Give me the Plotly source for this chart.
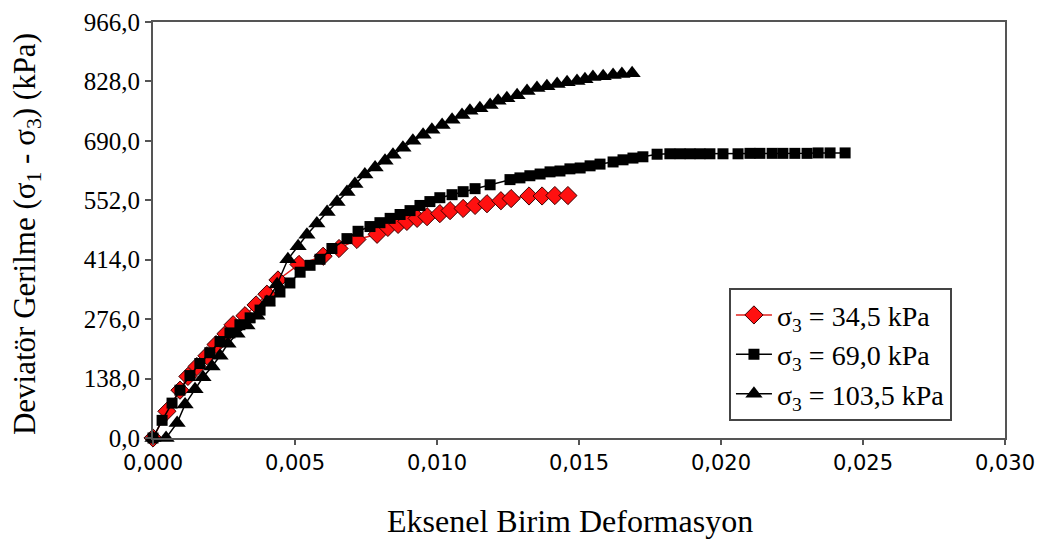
import plotly.graph_objects as go

# Series 1: sigma3 = 34.5 kPa (red diamonds)
x1 = [0.0, 0.00049, 0.00095, 0.00123, 0.00155, 0.0019, 0.00222, 0.00257, 0.00282, 0.00324,
      0.00363, 0.00401, 0.0044, 0.00514, 0.00599, 0.00655, 0.00718, 0.00789, 0.00827, 0.00863,
      0.00894, 0.0093, 0.00965, 0.0101, 0.01046, 0.01092, 0.01134, 0.01176, 0.01225, 0.01261,
      0.01324, 0.0137, 0.01415, 0.01461]
y1 = [0, 62, 111, 143, 166, 191, 217, 242, 263, 284,
      309, 334, 367, 403, 422, 440, 461, 473, 489, 496,
      503, 510, 514, 521, 528, 533, 540, 544, 551, 556,
      562, 562, 563, 563]

# Series 2: sigma3 = 69.0 kPa (black squares)
x2 = [0.0, 0.00032, 0.00067, 0.00095, 0.0013, 0.00165, 0.002, 0.00236, 0.00271, 0.00306,
      0.00342, 0.00377, 0.00412, 0.00447, 0.00482, 0.00518, 0.00553, 0.00588, 0.0063, 0.00683,
      0.00722, 0.00764, 0.00799, 0.00835, 0.0087, 0.00905, 0.0094, 0.00975, 0.0101, 0.01053,
      0.01092, 0.01134, 0.01187, 0.01257, 0.01292, 0.01327, 0.01363, 0.01398, 0.01433, 0.01468,
      0.01504, 0.01539, 0.01574, 0.0162, 0.01655, 0.0169, 0.01725, 0.01775, 0.0182, 0.01856,
      0.01891, 0.01926, 0.01961, 0.02007, 0.0206, 0.02102, 0.02137, 0.0218, 0.02218, 0.0226,
      0.02303, 0.02342, 0.02384, 0.02437]
y2 = [0, 41, 81, 111, 145, 173, 198, 224, 244, 263,
      279, 297, 318, 339, 360, 385, 401, 415, 440, 463,
      480, 491, 500, 510, 519, 528, 540, 549, 558, 565,
      572, 579, 588, 600, 604, 609, 613, 618, 620, 625,
      627, 632, 636, 641, 646, 650, 653, 659, 660, 660,
      660, 660, 660, 660, 660, 661, 661, 661, 661, 661,
      661, 662, 662, 662]

# Series 3: sigma3 = 103.5 kPa (black triangles)
x3 = [0.0, 0.00046, 0.00085, 0.00113, 0.00148, 0.00176, 0.00208, 0.00236, 0.00264, 0.00296,
      0.00331, 0.00366, 0.00401, 0.00437, 0.00475, 0.00511, 0.00542, 0.00577, 0.00613, 0.00648,
      0.00683, 0.00711, 0.00746, 0.00782, 0.00817, 0.00845, 0.0088, 0.00915, 0.00951, 0.00982,
      0.01018, 0.01053, 0.01088, 0.01116, 0.01151, 0.01187, 0.01215, 0.01246, 0.01282, 0.01317,
      0.01352, 0.01387, 0.01423, 0.01458, 0.01493, 0.01521, 0.01549, 0.01585, 0.0162, 0.01651,
      0.01687]
y3 = [0, 0, 35, 78, 113, 141, 166, 191, 219, 242,
      261, 284, 316, 357, 415, 445, 472, 498, 525, 548,
      571, 590, 612, 628, 644, 658, 674, 690, 704, 716,
      727, 739, 750, 760, 766, 773, 783, 789, 796, 806,
      813, 817, 822, 826, 829, 833, 838, 840, 843, 845,
      847]

series_names = ["σ<sub>3</sub> = 34,5 kPa", "σ<sub>3</sub> = 69,0 kPa", "σ<sub>3</sub> = 103,5 kPa"]

x_tickvals = [0.0, 0.005, 0.010, 0.015, 0.020, 0.025, 0.030]
x_ticktext = ["0,000", "0,005", "0,010", "0,015", "0,020", "0,025", "0,030"]
y_tickvals = [0, 138, 276, 414, 552, 690, 828, 966]
y_ticktext = ["0,0", "138,0", "276,0", "414,0", "552,0", "690,0", "828,0", "966,0"]

x_title = "Eksenel Birim Deformasyon"
y_title = "Deviatör Gerilme (σ<sub>1</sub> - σ<sub>3</sub>) (kPa)"

SERIF = "Liberation Serif, Times New Roman, serif"

fig = go.Figure()
fig.add_trace(go.Scatter(
    x=x1, y=y1, name=series_names[0], mode="lines+markers", cliponaxis=False,
    line=dict(color="#e0201c", width=1.5),
    marker=dict(symbol="diamond", size=14, color="#ff1010", line=dict(color="#3a0000", width=1)),
))
fig.add_trace(go.Scatter(
    x=x2, y=y2, name=series_names[1], mode="lines+markers", cliponaxis=False,
    line=dict(color="black", width=1.5),
    marker=dict(symbol="square", size=11, color="black"),
))
fig.add_trace(go.Scatter(
    x=x3, y=y3, name=series_names[2], mode="lines+markers", cliponaxis=False,
    line=dict(color="black", width=1.5),
    marker=dict(symbol="triangle-up", size=15, color="black"),
))

fig.update_layout(
    width=1035, height=538,
    margin=dict(l=145, r=38, t=14, b=108, autoexpand=False),
    paper_bgcolor="white", plot_bgcolor="white",
    font=dict(family=SERIF, size=26, color="black"),
    showlegend=True,
    legend=dict(
        x=0.676, y=0.36, xanchor="left", yanchor="top",
        bgcolor="white", bordercolor="#444444", borderwidth=2,
        font=dict(family=SERIF, size=28, color="black"),
        tracegroupgap=0, itemwidth=36,
    ),
    annotations=[
        dict(text=x_title, xref="paper", yref="paper", x=0.49, y=-0.20,
             xanchor="center", yanchor="middle", showarrow=False,
             font=dict(family=SERIF, size=32, color="black")),
        dict(text=y_title, xref="paper", yref="paper", x=-0.148, y=0.49,
             xanchor="center", yanchor="middle", showarrow=False, textangle=-90,
             font=dict(family=SERIF, size=31, color="black")),
    ],
)

fig.update_xaxes(
    range=[0, 0.03], tickvals=x_tickvals, ticktext=x_ticktext, automargin=False,
    ticklabeloverflow="allow",
    showgrid=False, zeroline=False,
    showline=True, linecolor="#555555", linewidth=2, mirror=True,
    ticks="outside", ticklen=5, tickwidth=2, tickcolor="#555555",
    tickfont=dict(family="DejaVu Sans, sans-serif", size=21, color="black"),
)
fig.update_yaxes(
    range=[0, 966], tickvals=y_tickvals, ticktext=y_ticktext, automargin=False,
    ticklabeloverflow="allow",
    showgrid=False, zeroline=False,
    showline=True, linecolor="#555555", linewidth=2, mirror=True,
    ticks="outside", ticklen=6, tickwidth=2, tickcolor="#555555",
    tickfont=dict(family=SERIF, size=25, color="black"),
)

fig.write_html("out.html")
